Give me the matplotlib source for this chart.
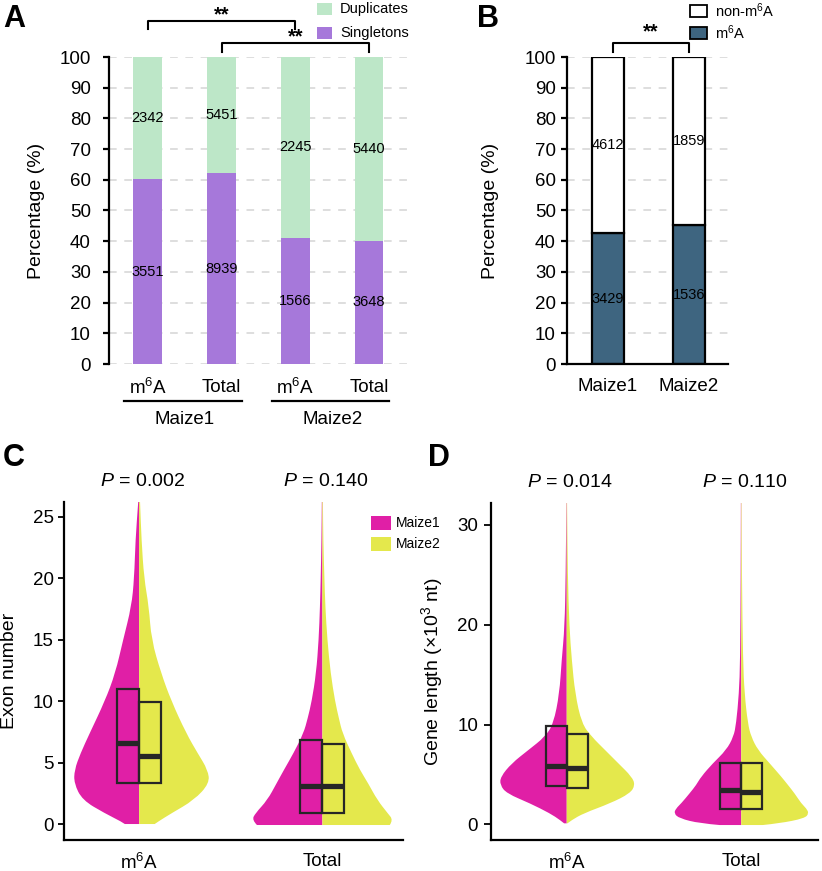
import matplotlib
matplotlib.use("Agg")
import matplotlib.pyplot as plt
from matplotlib.patches import Rectangle, PathPatch
from matplotlib.path import Path
import numpy as np

# Fontes (Arial-like)
plt.rcParams['font.family'] = ['Liberation Sans', 'DejaVu Sans']
plt.rcParams['mathtext.fontset'] = 'custom'
plt.rcParams['mathtext.rm'] = 'Liberation Sans'
plt.rcParams['mathtext.it'] = 'Liberation Sans:italic'
plt.rcParams['mathtext.bf'] = 'Liberation Sans:bold'

# ---------------- dados ----------------
# Painel A
a_groups = ['Maize1', 'Maize2']
a_sets = ['m$^6$A', 'Total', 'm$^6$A', 'Total']
a_singletons = [3551, 8939, 1566, 3648]
a_duplicates = [2342, 5451, 2245, 5440]

# Painel B
b_labels = ['Maize1', 'Maize2']
b_m6a = [3429, 1536]
b_non_m6a = [4612, 1859]

# Painel C / D: categorias, p-values
cd_categories = ['m$^6$A', 'Total']
c_pvalues = ['0.002', '0.140']
d_pvalues = ['0.014', '0.110']

# Painel C: perfis de violino (y, meia-largura)
c_m6a_y = [0, 0.19, 0.87, 1.95, 3.31, 4.4, 5.75, 7.38, 10.0, 12.27, 15.0, 17.7, 20.0, 23.1, 26.2]
c_m6a_maize1 = [0.078, 0.096, 0.187, 0.31, 0.355, 0.353, 0.32, 0.27, 0.187, 0.13, 0.087, 0.042, 0.027, 0.02, 0.005]
c_m6a_maize2 = [0.085, 0.103, 0.176, 0.30, 0.384, 0.375, 0.32, 0.257, 0.176, 0.12, 0.067, 0.053, 0.027, 0.013, 0.005]
c_total_y = [-0.08, 0.33, 0.87, 1.95, 3.31, 4.4, 5.75, 7.38, 8.6, 10.0, 12.27, 15.0, 17.7, 20.0, 23.1, 26.2]
c_total_maize1 = [0.357, 0.384, 0.366, 0.30, 0.25, 0.21, 0.158, 0.103, 0.08, 0.058, 0.034, 0.02, 0.013, 0.009, 0.005, 0.003]
c_total_maize2 = [0.368, 0.386, 0.357, 0.30, 0.25, 0.205, 0.16, 0.11, 0.09, 0.069, 0.045, 0.027, 0.016, 0.011, 0.005, 0.003]

# Painel C: boxplots (m6A, Total)
c_q1_maize1 = [3.3, 0.92]
c_med_maize1 = [6.6, 3.12]
c_q3_maize1 = [11.0, 6.84]
c_q1_maize2 = [3.3, 0.92]
c_med_maize2 = [5.5, 3.12]
c_q3_maize2 = [9.9, 6.5]

# Painel D: perfis de violino
d_m6a_y = [0.1, 0.43, 1.1, 2.1, 3.1, 3.94, 4.77, 6.11, 7.44, 8.78, 10.1, 13.1, 16.46, 19.8, 25.0, 32.2]
d_m6a_maize1 = [0.015, 0.038, 0.096, 0.21, 0.344, 0.382, 0.379, 0.316, 0.22, 0.124, 0.076, 0.042, 0.029, 0.012, 0.006, 0.002]
d_m6a_maize2 = [0.004, 0.029, 0.096, 0.249, 0.363, 0.392, 0.373, 0.296, 0.22, 0.143, 0.086, 0.048, 0.029, 0.015, 0.006, 0.002]
d_total_y = [-0.07, 0.1, 0.6, 1.1, 1.6, 2.1, 3.1, 3.94, 4.77, 6.11, 7.44, 8.78, 10.1, 13.1, 16.46, 25.0, 32.2]
d_total_maize1 = [0.124, 0.239, 0.354, 0.386, 0.373, 0.344, 0.296, 0.258, 0.23, 0.163, 0.086, 0.044, 0.029, 0.013, 0.006, 0.003, 0.002]
d_total_maize2 = [0.124, 0.22, 0.363, 0.388, 0.373, 0.344, 0.306, 0.268, 0.23, 0.163, 0.096, 0.057, 0.038, 0.019, 0.01, 0.004, 0.002]

# Painel D: boxplots
d_q1_maize1 = [3.84, 1.53]
d_med_maize1 = [5.84, 3.44]
d_q3_maize1 = [9.85, 6.17]
d_q1_maize2 = [3.67, 1.53]
d_med_maize2 = [5.61, 3.27]
d_q3_maize2 = [9.05, 6.17]

# cores
COL_DUP = '#bde7c8'
COL_SING = '#a678da'
COL_M6A = '#3e6580'
COL_MAIZE1 = '#e01fa6'
COL_MAIZE2 = '#e4e84c'
COL_GRID = '#d4d4d4'

W, H = 822, 871
fig = plt.figure(figsize=(W / 100, H / 100), dpi=100)


def add_axes_px(left, top, right, bottom):
    return fig.add_axes([left / W, 1 - bottom / H, (right - left) / W, (bottom - top) / H])


def fig_rect(x0, y0, w, h, **kw):
    fig.add_artist(Rectangle((x0 / W, 1 - (y0 + h) / H), w / W, h / H,
                             transform=fig.transFigure, **kw))


def fig_text(x, y, s, **kw):
    fig.text(x / W, 1 - y / H, s, **kw)


def style_percent_axis(ax, pad):
    ax.set_ylim(0, 100)
    ax.set_yticks(range(0, 101, 10))
    ax.spines['top'].set_visible(False)
    ax.spines['right'].set_visible(False)
    ax.spines['left'].set_linewidth(1.6)
    ax.tick_params(axis='y', length=4, width=1.6, labelsize=13.5, pad=pad)
    ax.tick_params(axis='x', length=0)
    ax.yaxis.grid(True, color=COL_GRID, linestyle=(0, (5, 5)), linewidth=1.1)
    ax.set_axisbelow(True)


# ---------------- Painel A ----------------
axA = add_axes_px(109, 57, 407, 364)
xA = np.arange(len(a_sets))
tot_a = np.array(a_singletons) + np.array(a_duplicates)
sing_pct = np.array(a_singletons) / tot_a * 100
dup_pct = np.array(a_duplicates) / tot_a * 100
axA.bar(xA, sing_pct, width=0.39, color=COL_SING, zorder=2)
axA.bar(xA, dup_pct, width=0.39, bottom=sing_pct, color=COL_DUP, zorder=2)
for i in range(len(xA)):
    axA.text(xA[i], sing_pct[i] / 2, str(a_singletons[i]), ha='center', va='center', fontsize=10.5, zorder=3)
    axA.text(xA[i], sing_pct[i] + dup_pct[i] / 2, str(a_duplicates[i]), ha='center', va='center', fontsize=10.5, zorder=3)
style_percent_axis(axA, 9)
axA.spines['bottom'].set_visible(False)
axA.set_xlim(-0.527, 3.514)
axA.set_xticks([])
axA.set_ylabel('Percentage (%)', fontsize=14)
axA.yaxis.set_label_coords(-0.215, 0.5)

trA = axA.get_xaxis_transform()
for i, lab in enumerate(a_sets):
    axA.text(xA[i], -0.078, lab, transform=trA, ha='center', va='center', fontsize=13.5)
for g, name in enumerate(a_groups):
    i0, i1 = 2 * g, 2 * g + 1
    axA.plot([xA[i0] - 0.32, xA[i1] + 0.27], [-0.12, -0.12], transform=trA, color='black', lw=1.6, clip_on=False)
    axA.text((xA[i0] + xA[i1]) / 2, -0.182, name, transform=trA, ha='center', va='center', fontsize=13.5)

# colchetes de significancia
axA.plot([0, 0, 2, 2], [109.1, 111.7, 111.7, 109.1], color='black', lw=1.5, clip_on=False)
axA.text(1, 113.6, '**', ha='center', va='center', fontsize=14.5, fontweight='bold', clip_on=False)
axA.plot([1, 1, 3, 3], [101.6, 104.6, 104.6, 101.6], color='black', lw=1.5, clip_on=False)
axA.text(2, 106.4, '**', ha='center', va='center', fontsize=14.5, fontweight='bold', clip_on=False)

# legenda A
fig_rect(317, 3, 15, 12, facecolor=COL_DUP, edgecolor='none')
fig_text(340, 9, 'Duplicates', ha='left', va='center', fontsize=10.5)
fig_rect(317, 27, 15, 12, facecolor=COL_SING, edgecolor='none')
fig_text(340, 33, 'Singletons', ha='left', va='center', fontsize=10.5)

# ---------------- Painel B ----------------
axB = add_axes_px(567, 57, 728, 364)
xB = np.arange(len(b_labels))
tot_b = np.array(b_m6a) + np.array(b_non_m6a)
m6a_pct = np.array(b_m6a) / tot_b * 100
non_pct = np.array(b_non_m6a) / tot_b * 100
axB.bar(xB, m6a_pct, width=0.395, color=COL_M6A, edgecolor='black', linewidth=1.6, zorder=2)
axB.bar(xB, non_pct, width=0.395, bottom=m6a_pct, color='white', edgecolor='black', linewidth=1.6, zorder=2)
for i in range(len(xB)):
    axB.text(xB[i], m6a_pct[i] / 2, str(b_m6a[i]), ha='center', va='center', fontsize=10.5, zorder=3)
    axB.text(xB[i], m6a_pct[i] + non_pct[i] / 2, str(b_non_m6a[i]), ha='center', va='center', fontsize=10.5, zorder=3)
style_percent_axis(axB, 4)
axB.spines['bottom'].set_linewidth(1.6)
axB.set_xlim(-0.506, 1.481)
axB.set_xticks(xB)
axB.set_xticklabels(b_labels, fontsize=13.5)
axB.tick_params(axis='x', pad=10)
axB.set_ylabel('Percentage (%)', fontsize=14)
axB.yaxis.set_label_coords(-0.42, 0.5)

axB.plot([0.06, 0.06, 1, 1], [101.6, 104.6, 104.6, 101.6], color='black', lw=1.5, clip_on=False)
axB.text(0.53, 108.2, '**', ha='center', va='center', fontsize=14.5, fontweight='bold', clip_on=False)

# legenda B
fig_rect(690, 5, 17, 12, facecolor='white', edgecolor='black', linewidth=1.3)
fig_text(715, 11, 'non-m$^6$A', ha='left', va='center', fontsize=10.5)
fig_rect(690, 27, 17, 12, facecolor=COL_M6A, edgecolor='black', linewidth=1.3)
fig_text(715, 33, 'm$^6$A', ha='left', va='center', fontsize=10.5)


# ---------------- Paineis C e D ----------------
def smooth_half(ax, pos, y, w, sign, color):
    # contorno suave: pontos lidos como controles de curvas quadraticas
    pts = [(pos + sign * wi, yi) for wi, yi in zip(w, y)]
    verts = [(pos, y[0]), pts[0]]
    codes = [Path.MOVETO, Path.LINETO]
    for i in range(1, len(pts) - 1):
        mid = ((pts[i][0] + pts[i + 1][0]) / 2, (pts[i][1] + pts[i + 1][1]) / 2)
        verts += [pts[i], mid]
        codes += [Path.CURVE3, Path.CURVE3]
    verts += [pts[-1], (pos, y[-1]), (pos, y[0])]
    codes += [Path.LINETO, Path.LINETO, Path.CLOSEPOLY]
    ax.add_patch(PathPatch(Path(verts, codes), facecolor=color, edgecolor='none', zorder=1))


def half_violins(ax, pos, y, w1, w2):
    smooth_half(ax, pos, y, w1, -1, COL_MAIZE1)
    smooth_half(ax, pos, y, w2, 1, COL_MAIZE2)


def half_boxes(ax, positions, q1a, meda, q3a, q1b, medb, q3b, bw=0.12):
    for i, pos in enumerate(positions):
        for x0, q1, med, q3 in [(pos - bw, q1a[i], meda[i], q3a[i]), (pos, q1b[i], medb[i], q3b[i])]:
            ax.add_patch(Rectangle((x0, q1), bw, q3 - q1, facecolor='none',
                                   edgecolor='#262626', linewidth=1.6, zorder=3))
            ax.plot([x0, x0 + bw], [med, med], color='#262626', lw=3.8, solid_capstyle='butt', zorder=4)


def style_violin_axis(ax, pvals, pad, ticklen):
    ax.spines['top'].set_visible(False)
    ax.spines['right'].set_visible(False)
    ax.spines['left'].set_linewidth(1.6)
    ax.spines['bottom'].set_linewidth(1.6)
    ax.tick_params(axis='y', length=ticklen, width=1.3, labelsize=13.5, pad=pad)
    ax.tick_params(axis='x', length=0, labelsize=13.5, pad=9)
    ax.set_xticks([0, 1])
    ax.set_xticklabels(cd_categories)
    tr = ax.get_xaxis_transform()
    for i, p in enumerate(pvals):
        ax.text(i + 0.02, 1.06, '$P$ = ' + p, transform=tr, ha='center', va='center', fontsize=14)


axC = add_axes_px(64, 502, 403, 840)
half_violins(axC, 0, c_m6a_y, c_m6a_maize1, c_m6a_maize2)
half_violins(axC, 1, c_total_y, c_total_maize1, c_total_maize2)
half_boxes(axC, [0, 1], c_q1_maize1, c_med_maize1, c_q3_maize1, c_q1_maize2, c_med_maize2, c_q3_maize2)
axC.set_xlim(-0.41, 1.44)
axC.set_ylim(-1.3, 26.2)
axC.set_yticks([0, 5, 10, 15, 20, 25])
style_violin_axis(axC, c_pvalues, 3, 4.5)
axC.set_ylabel('Exon number', fontsize=14)
axC.yaxis.set_label_coords(-0.135, 0.5)

# legenda C
fig_rect(371, 516, 20, 14, facecolor=COL_MAIZE1, edgecolor='none')
fig_text(396, 523, 'Maize1', ha='left', va='center', fontsize=10)
fig_rect(371, 537, 20, 14, facecolor=COL_MAIZE2, edgecolor='none')
fig_text(396, 544, 'Maize2', ha='left', va='center', fontsize=10)

axD = add_axes_px(491, 503, 818, 840)
half_violins(axD, 0, d_m6a_y, d_m6a_maize1, d_m6a_maize2)
half_violins(axD, 1, d_total_y, d_total_maize1, d_total_maize2)
half_boxes(axD, [0, 1], d_q1_maize1, d_med_maize1, d_q3_maize1, d_q1_maize2, d_med_maize2, d_q3_maize2)
axD.set_xlim(-0.434, 1.44)
axD.set_ylim(-1.57, 32.2)
axD.set_yticks([0, 10, 20, 30])
style_violin_axis(axD, d_pvalues, 4.3, 5)
axD.set_ylabel(r'Gene length ($\times$10$^3$ nt)', fontsize=14)
axD.yaxis.set_label_coords(-0.14, 0.5)

# letras dos paineis
for letter, x, y in [('A', 3, 19), ('B', 477, 19), ('C', 3, 458), ('D', 428, 458)]:
    fig_text(x, y, letter, ha='left', va='center', fontsize=22, fontweight='bold')

plt.savefig('out.png', dpi=100)
plt.close()
